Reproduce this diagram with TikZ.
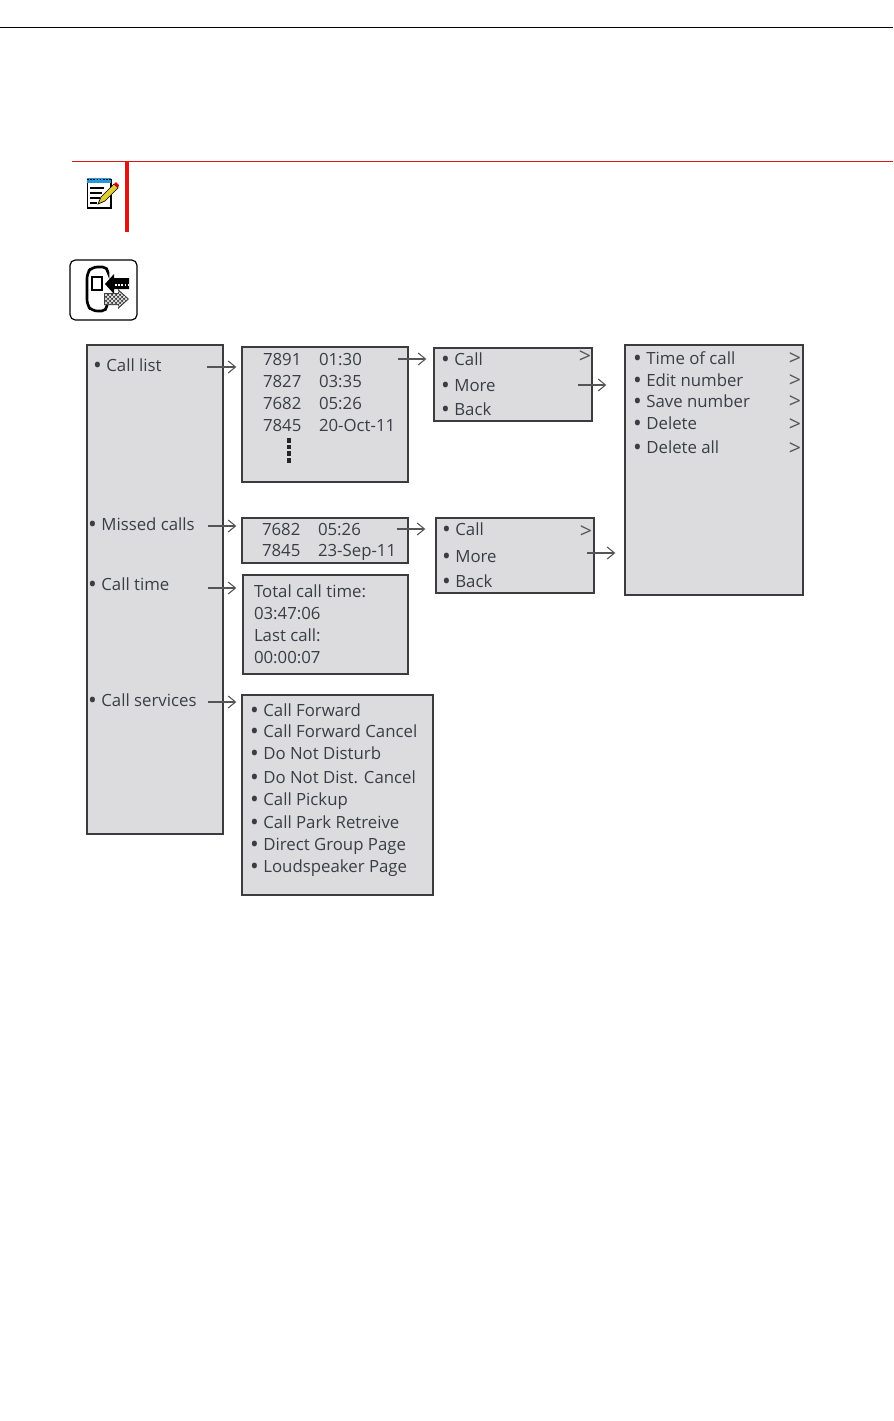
\documentclass[tikz,border=0pt]{standalone}
\usepackage{fontspec}
\usepackage{xcolor}
\setmainfont{Open Sans}
\usetikzlibrary{arrows.meta, patterns}
\definecolor{boxfill}{RGB}{220, 220, 223}
\definecolor{boxline}{RGB}{60, 60, 62}
\definecolor{textgray}{RGB}{58, 62, 68}
\definecolor{arrowgray}{RGB}{85, 85, 88}
\definecolor{rulered}{RGB}{225, 20, 20}
\definecolor{padblue}{RGB}{40, 150, 215}
\definecolor{padyellow}{RGB}{225, 205, 50}
\newcommand{\bul}{\makebox[10pt][l]{\raisebox{-1.8pt}{\fontsize{17.5}{15}\selectfont\textbullet}}}
\newcommand{\timecol}[1]{\makebox[42pt][l]{#1}}

\begin{document}
\begin{tikzpicture}[
  x=0.75pt, y=-0.75pt,
  menubox/.style 2 args={draw=boxline, fill=boxfill, line width=1pt, inner sep=0pt,
    minimum width=#1*0.75pt, minimum height=#2*0.75pt},
  rowtext/.style={anchor=base west, inner sep=0pt, outer sep=0pt, yshift=0.75pt, font=\fontsize{12.6}{15}\selectfont, text=textgray},
  more/.style={anchor=base east, inner sep=0pt, outer sep=0pt, yshift=-0.75pt, font=\fontsize{16}{15}\selectfont, text=arrowgray},
  arrow/.style={-{Straight Barb[length=5.5pt, width=9pt]}, arrowgray, line width=0.8pt}
]
\useasboundingbox (0,0) rectangle (893,1421);

% Page rules
\coordinate (topl) at (0,27);
\coordinate (topr) at (893,27);
\coordinate (notel) at (72,161);
\coordinate (noter) at (893,161);
\draw[black, line width=0.7pt] (topl) -- (topr);
\draw[rulered, line width=0.7pt] (notel) -- (noter);
\fill[rulered] (125,161) rectangle (129,232);

% Note icon
\fill[black] (87,179) rectangle (112,209);
\fill[white] (88,183) rectangle (110,207);
\fill[padblue] (87,178) rectangle (111,183);
\draw[black, line width=0.6pt, dash pattern=on 1.2pt off 1.2pt] (87,179) -- (112,179);
\draw[black, line width=1pt] (90,188) -- (104,188) (90,193) -- (102,193) (90,198) -- (100,198) (90,203) -- (97,203);
\fill[padyellow, draw=black, line width=0.5pt] (98,204) -- (101,197) -- (114,184) -- (118,188) -- (105,201) -- cycle;
\fill[red!85!black] (114,184) -- (116,182) -- (119,185) -- (118,188) -- cycle;

% Phone icon
\draw[black, line width=0.9pt, fill=white, rounded corners=4pt] (70,260) rectangle (137,320);
\draw[black, line width=2pt, rounded corners=4pt] (108,272) -- (108,267) -- (92,267) -- (87,273) -- (87,305) -- (92,311) -- (107,311) -- (107,306);
\draw[black, line width=1.1pt] (92,277) rectangle (102,290);
\fill[black] (105,284) -- (114,274) -- (114,278) -- (129,278) -- (129,289) -- (114,289) -- (114,294) -- cycle;
\draw[white, line width=0.8pt, dash pattern=on 1.2pt off 1.2pt] (115,285) -- (128,285);
\fill[black!75] (104,293) -- (118,293) -- (118,289) -- (129,299) -- (118,309) -- (118,305) -- (104,305) -- cycle;
\fill[pattern=crosshatch, pattern color=white] (105,294) -- (118,294) -- (118,291) -- (128,299) -- (118,307) -- (118,304) -- (105,304) -- cycle;

% Boxes
\node[menubox={136}{489}] (mainbox) at (155,589.5) {};
\node[menubox={166}{135}] (listbox) at (325,414.5) {};
\node[menubox={158}{73}] (optbox) at (513,384.5) {};
\node[menubox={166}{45}] (missbox) at (325,540.5) {};
\node[menubox={158}{75}] (missopt) at (515,555.5) {};
\node[menubox={178}{250}] (actbox) at (714,470) {};
\node[menubox={165}{99}] (timebox) at (325.5,624.5) {};
\node[menubox={191}{200}] (servbox) at (337.5,795) {};

% Main menu
\node[rowtext] (rowlist) at (93,372) {\bul Call list};
\node[rowtext] (rowmiss) at (88,531) {\bul Missed calls};
\node[rowtext] (rowtime) at (88,591) {\bul Call time};
\node[rowtext] (rowserv) at (88,707) {\bul Call services};

% Call list
\node[rowtext] (list1) at (263,366) {\timecol{7891}01:30};
\node[rowtext] (list2) at (263,388) {\timecol{7827}03:35};
\node[rowtext] (list3) at (263,410) {\timecol{7682}05:26};
\node[rowtext] (list4) at (263,432) {\timecol{7845}20-Oct-11};
\coordinate (dotstop) at (289,438);
\coordinate (dotsend) at (289,464);
\draw[black!85, line width=2.6pt, dash pattern=on 3.6pt off 1.4pt] (dotstop) -- (dotsend);

% Options of the call list
\node[rowtext] (opt1) at (441,366) {\bul Call};
\node[rowtext] (opt2) at (441,392) {\bul More};
\node[rowtext] (opt3) at (441,416) {\bul Back};
\node[more] (optgt) at (591,362) {>};

% Missed calls
\node[rowtext] (miss1) at (262,536) {\timecol{7682}05:26};
\node[rowtext] (miss2) at (262,557) {\timecol{7845}23-Sep-11};

% Options of the missed calls
\node[rowtext] (mopt1) at (442,536) {\bul Call};
\node[rowtext] (mopt2) at (442,563) {\bul More};
\node[rowtext] (mopt3) at (442,588) {\bul Back};
\node[more] (moptgt) at (592,537) {>};

% Call time
\node[rowtext] (time1) at (254,598) {Total call time:};
\node[rowtext] (time2) at (254,620) {03:47:06};
\node[rowtext] (time3) at (254,642) {Last call:};
\node[rowtext] (time4) at (254,664) {00:00:07};

% Actions
\node[rowtext] (act1) at (633,365) {\bul Time of call};
\node[rowtext] (act2) at (633,387) {\bul Edit number};
\node[rowtext] (act3) at (633,408) {\bul Save number};
\node[rowtext] (act4) at (633,430) {\bul Delete};
\node[rowtext] (act5) at (633,454) {\bul Delete all};
\node[more] (actgt1) at (801,364) {>};
\node[more] (actgt2) at (801,386) {>};
\node[more] (actgt3) at (801,407) {>};
\node[more] (actgt4) at (801,430) {>};
\node[more] (actgt5) at (801,454) {>};

% Call services
\node[rowtext] (serv1) at (250,717) {\bul Call Forward};
\node[rowtext] (serv2) at (250,738) {\bul Call Forward Cancel};
\node[rowtext] (serv3) at (250,760) {\bul Do Not Disturb};
\node[rowtext] (serv4) at (250,784) {\bul Do Not Dist. Cancel};
\node[rowtext] (serv5) at (250,806) {\bul Call Pickup};
\node[rowtext] (serv6) at (250,829) {\bul Call Park Retreive};
\node[rowtext] (serv7) at (250,851) {\bul Direct Group Page};
\node[rowtext] (serv8) at (250,873) {\bul Loudspeaker Page};

% Arrows
\coordinate (outlist) at (207,367);
\coordinate (outmiss) at (208,526);
\coordinate (outtime) at (208,588);
\coordinate (outserv) at (208,702);
\coordinate (outrow) at (398,359);
\coordinate (outopt) at (578,385);
\coordinate (outmrow) at (397,529);
\coordinate (outmopt) at (587,553);
\draw[arrow, shorten >=3.75pt] (outlist) -- (outlist -| listbox.west);
\draw[arrow, shorten >=3.75pt] (outmiss) -- (outmiss -| missbox.west);
\draw[arrow, shorten >=4.5pt] (outtime) -- (outtime -| timebox.west);
\draw[arrow, shorten >=3.75pt] (outserv) -- (outserv -| servbox.west);
\draw[arrow, shorten >=5.25pt] (outrow) -- (outrow -| optbox.west);
\draw[arrow, shorten >=13.5pt] (outopt) -- (outopt -| actbox.west);
\draw[arrow, shorten >=7.5pt] (outmrow) -- (outmrow -| missopt.west);
\draw[arrow, shorten >=6.75pt] (outmopt) -- (outmopt -| actbox.west);
\end{tikzpicture}
\end{document}
